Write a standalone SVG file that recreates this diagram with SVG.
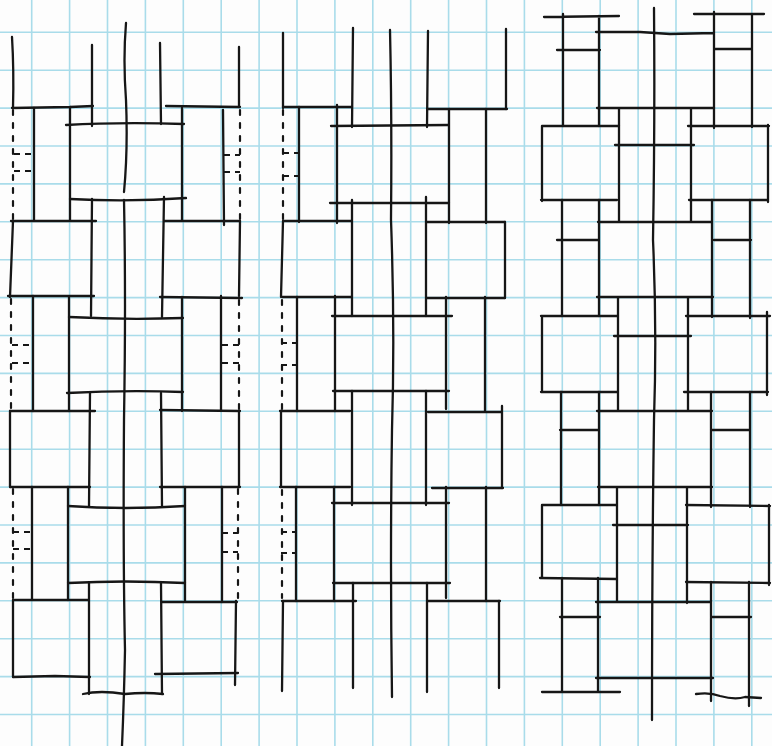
<svg xmlns="http://www.w3.org/2000/svg" width="772" height="746" viewBox="0 0 772 746">
<style>
.g{stroke:#a9dcea;stroke-width:1.6;fill:none}
.k{stroke:#161616;stroke-width:2.3;fill:none;stroke-linecap:round;stroke-linejoin:round}
.d{stroke:#161616;stroke-width:2.2;fill:none;stroke-dasharray:5 8;stroke-linecap:round}
.t{stroke:#161616;stroke-width:2.2;fill:none;stroke-dasharray:6 5}
</style>
<rect width="772" height="746" fill="#fdfdfd"/>
<g id="grid">
<path class="g" d="M31.7,0V746M69.6,0V746M107.5,0V746M145.4,0V746M183.3,0V746M221.2,0V746M259.1,0V746M297,0V746M334.9,0V746M372.8,0V746M410.7,0V746M448.6,0V746M486.5,0V746M524.4,0V746M562.3,0V746M600.2,0V746M638.1,0V746M676,0V746M713.9,0V746M751.8,0V746"/>
<path class="g" d="M0,32.3H772M0,70.2H772M0,108.1H772M0,146H772M0,183.9H772M0,221.8H772M0,259.7H772M0,297.6H772M0,335.5H772M0,373.4H772M0,411.3H772M0,449.2H772M0,487.1H772M0,525H772M0,562.9H772M0,600.8H772M0,638.7H772M0,676.6H772M0,714.5H772"/>
</g>
<g id="left">
<path class="k" d="M12,37Q14,70 13,108M92,45L92,126M160,43L161,124M239,47L239,107"/>
<path class="k" d="M126,23Q123,60 126,100Q128,150 124,192M124,200Q126,300 124,420Q123,560 125,650Q124,700 122,746"/>
<path class="k" d="M12,108L70,107L93,106M166,106L240,107M66,125Q120,122 184,124M70,199Q130,202 186,198M11,221L96,221M164,221L240,221"/>
<path class="k" d="M34,108L34,220M70,107L70,220M182,108L182,220M223,110L224,225"/>
<path class="d" d="M13,110V220M240,110V220"/>
<path class="t" d="M14,154H34M14,171H34M224,155H240M224,172H240"/>
<path class="k" d="M13,221L10,297M92,199L91,316M164,197L162,317M240,221L239,296"/>
<path class="k" d="M8,296L94,296M160,297L242,298M69,317Q125,320 183,318M67,393Q125,390 183,392M10,411L95,411M160,410L240,411"/>
<path class="k" d="M33,296V411M69,297V411M182,297V411M221,296V411"/>
<path class="d" d="M11,299V409M239,300V409"/>
<path class="t" d="M12,345H33M12,363H33M222,345H239M222,363H239"/>
<path class="k" d="M10,411V487M90,393L89,506M161,393L162,506M239,411V487"/>
<path class="k" d="M10,487L90,487M160,487L240,487M68,506Q125,510 185,506M68,583Q125,580 185,583M13,600L88,600M162,602L237,602"/>
<path class="k" d="M32,487V600M68,487V600M185,487V601M222,487V602"/>
<path class="d" d="M13,489V598M238,489V598"/>
<path class="t" d="M13,532H33M13,549H33M222,533H238M222,552H238"/>
<path class="k" d="M13,600L13,677M89,583L89,694M161,583L162,694M236,601L235,685"/>
<path class="k" d="M13,677L55,676L90,677M155,674L238,673M83,694Q100,690 125,694Q145,692 163,694"/>
</g>
<g id="middle">
<path class="k" d="M283,33L283,108M353,28L352,127M428,31L427,127M506,29L506,109"/>
<path class="k" d="M390,30Q392,120 391,220Q395,330 392,430Q390,560 392,697"/>
<path class="k" d="M283,107L352,107M427,109L507,109M331,126L448,125M330,203L449,203M283,221L352,221M427,222L505,222"/>
<path class="k" d="M299,107V222M337,105V223M449,109V223M486,109V223"/>
<path class="d" d="M283,110V220"/>
<path class="t" d="M283,153H298M283,176H298"/>
<path class="k" d="M283,221L281,297M352,200L352,316M426,197L426,316M505,222L505,298"/>
<path class="k" d="M282,297L351,297M427,298L505,298M332,316L452,316M333,391L449,391M280,411L350,411M428,412L502,412"/>
<path class="k" d="M297,297V411M335,296V411M446,297V409M485,297V411"/>
<path class="d" d="M282,300V409"/>
<path class="t" d="M281,343H297M281,365H297"/>
<path class="k" d="M281,411V487M352,391V505M426,391V505M502,406V488"/>
<path class="k" d="M280,487L350,487M432,488L503,488M332,503L449,503M333,583L450,583M282,601L356,601M428,601L500,601"/>
<path class="k" d="M296,487V601M334,487V601M446,487V598M486,487V601"/>
<path class="d" d="M282,490V598"/>
<path class="t" d="M281,532H296M281,553H296"/>
<path class="k" d="M283,601L282,691M353,583L353,688M427,583L427,692M499,601L499,688"/>
</g>
<g id="right">
<path class="k" d="M654,8Q655,120 653,240Q657,330 654,420Q652,560 652,720"/>
<path class="k" d="M544,17L619,16M563,14V126M599,16V126M557,50L600,50M694,14L764,14M714,12V128M752,14V127M714,49L752,49M596,32L640,32L670,34L714,33"/>
<path class="k" d="M597,108L714,108M619,108V222M691,108V222M615,145L694,145M598,222L712,222"/>
<path class="k" d="M542,126L619,126M541,200L617,200M542,126V201M688,126L769,126M689,200L768,200M768,125V202"/>
<path class="k" d="M562,200V316M599,200V316M557,240L599,240M712,200V317M750,200V318M714,240L751,240"/>
<path class="k" d="M597,297L713,297M618,297V411M688,297V411M614,336L691,336M597,411L712,411"/>
<path class="k" d="M541,316L617,316M541,392L617,392M542,316V392M686,316L770,316M684,392L768,392M767,312V395"/>
<path class="k" d="M561,392V505M599,392V505M560,430L599,430M711,392V507M750,392V507M712,430L750,430"/>
<path class="k" d="M598,487L712,487M617,487V601M687,487V603M613,525L688,525M596,602L711,602"/>
<path class="k" d="M542,505L617,505M540,578L617,579M542,505V578M686,505L770,506M686,582L770,583M769,505V585"/>
<path class="k" d="M562,578V692M598,578V692M560,617L600,617M542,692L620,692M711,582V701M749,582V706M711,617L751,617M596,678L713,678"/>
<path class="k" d="M696,694Q710,692 720,696Q735,700 745,697L761,698"/>
</g>
</svg>
